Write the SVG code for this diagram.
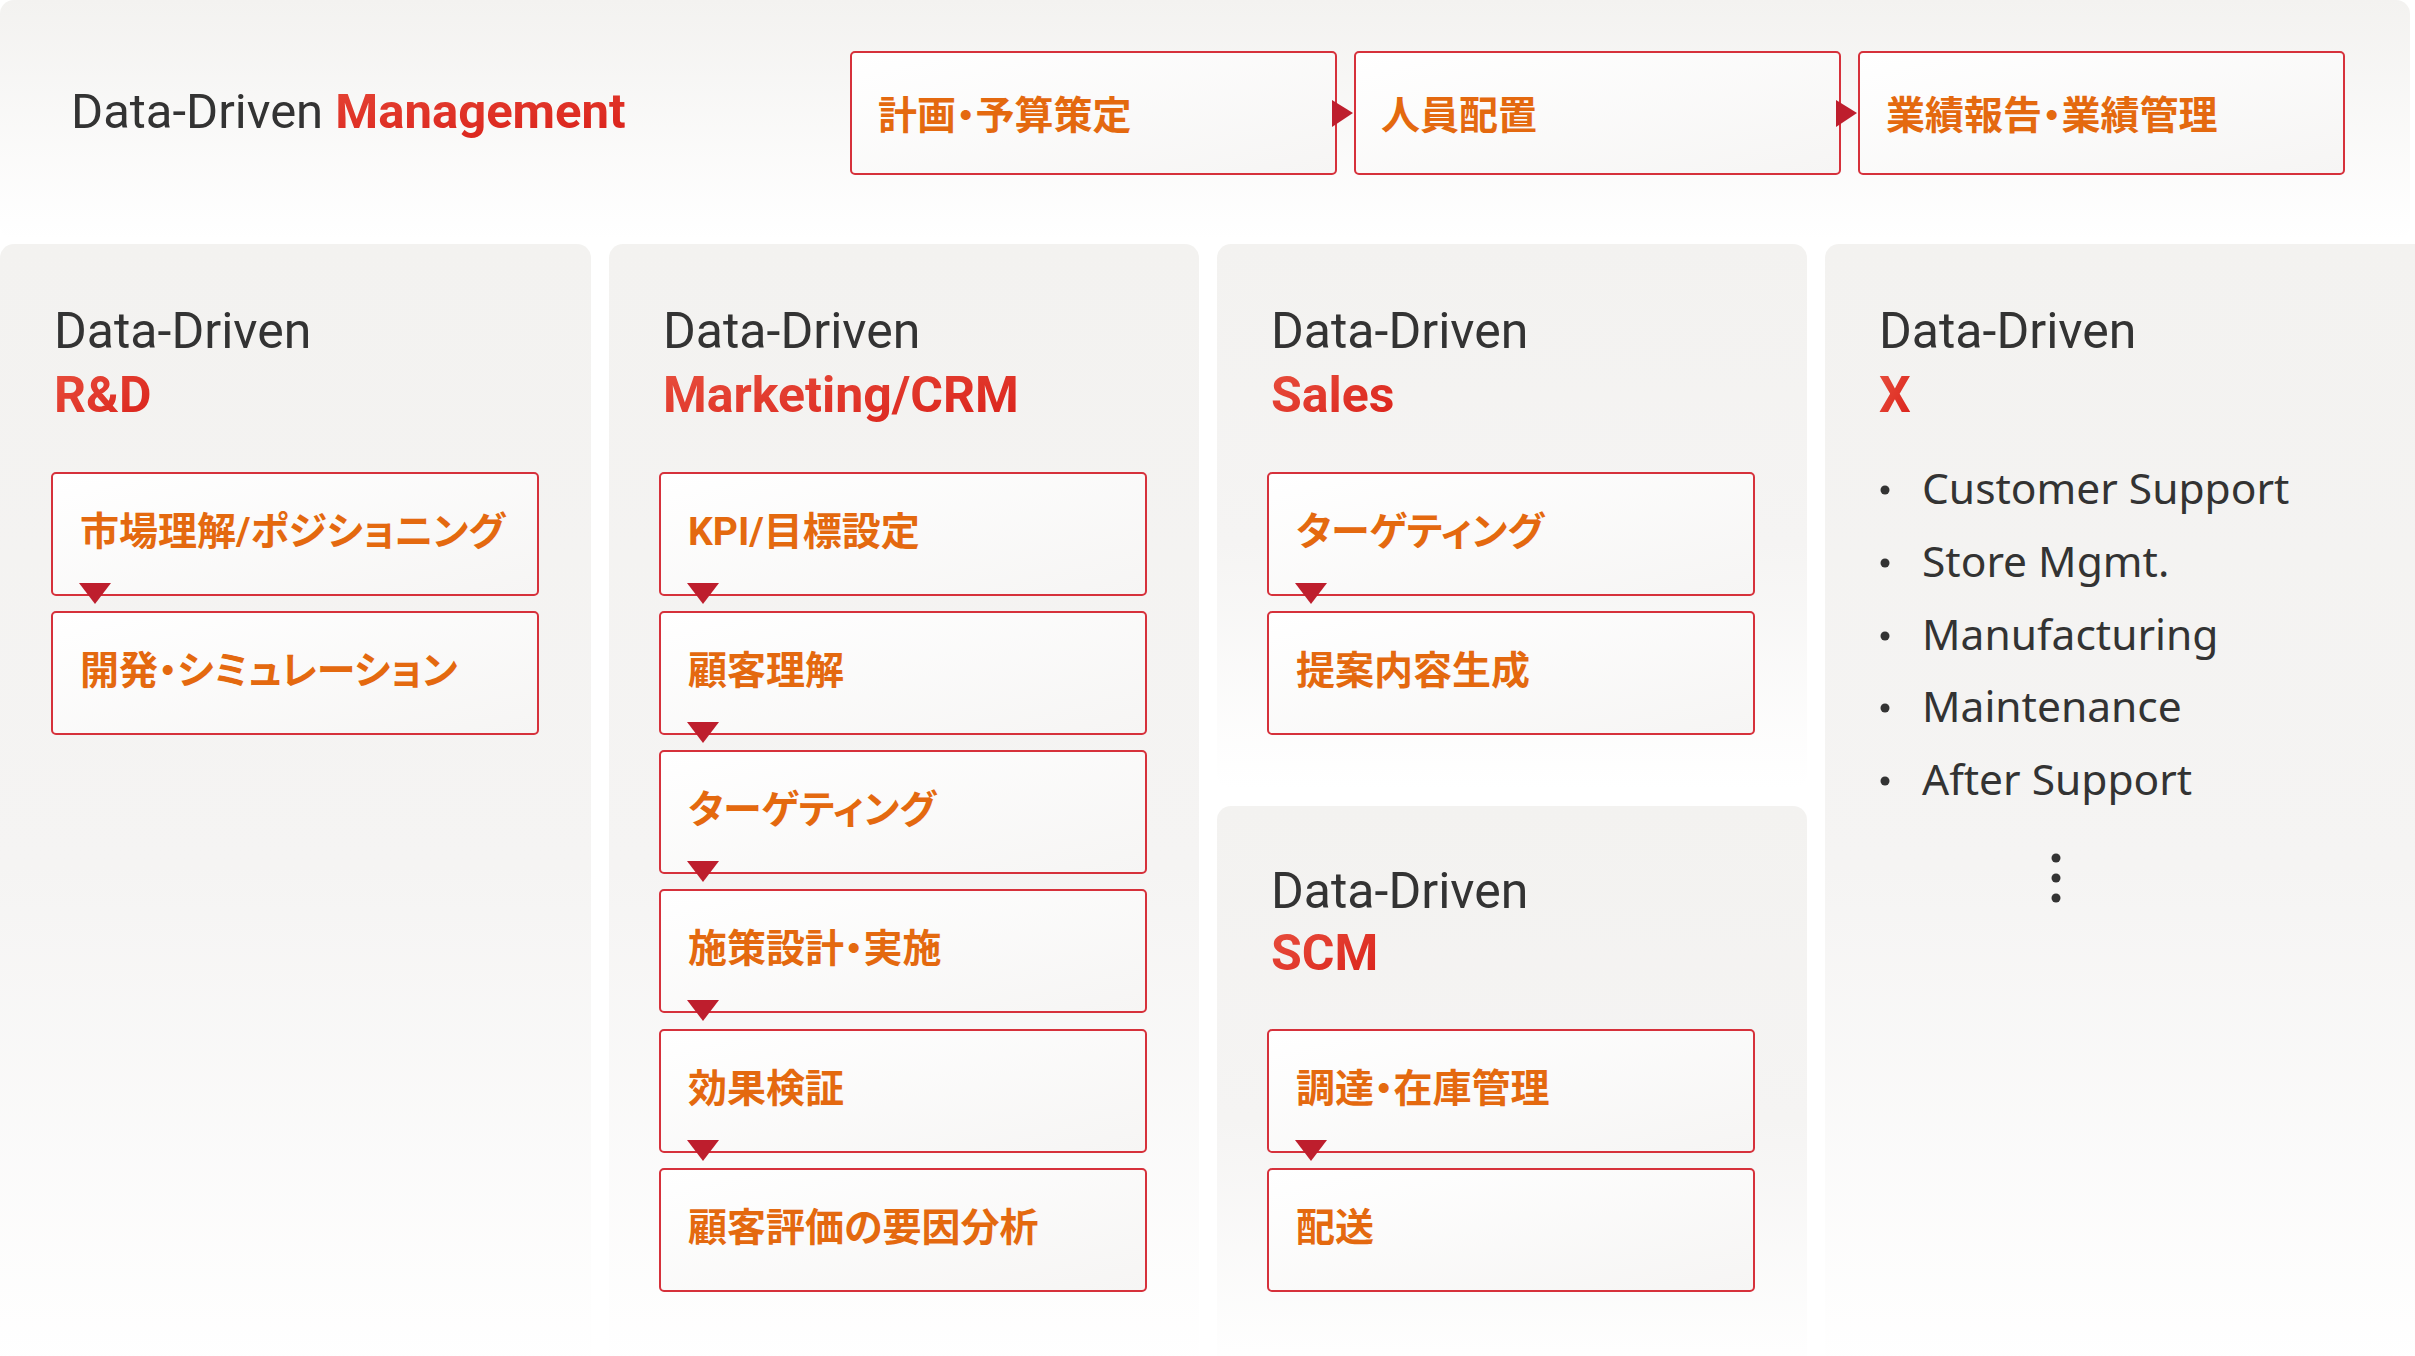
<svg xmlns="http://www.w3.org/2000/svg" width="2415" height="1356" viewBox="0 0 2415 1356">
<defs>
<linearGradient id="panelG" x1="0" y1="0" x2="0" y2="1">
<stop offset="0" stop-color="#f3f2f0"/>
<stop offset="0.55" stop-color="#f5f4f3"/>
<stop offset="1" stop-color="#ffffff"/>
</linearGradient>
<linearGradient id="headG" x1="0" y1="0" x2="0" y2="1">
<stop offset="0" stop-color="#f3f2f0"/>
<stop offset="1" stop-color="#ffffff"/>
</linearGradient>
<linearGradient id="boxG" x1="0" y1="0" x2="1" y2="1">
<stop offset="0" stop-color="#ffffff"/>
<stop offset="1" stop-color="#f6f5f4"/>
</linearGradient>
<linearGradient id="redG" x1="0" y1="0" x2="1" y2="1">
<stop offset="0" stop-color="#e8503e"/>
<stop offset="1" stop-color="#da2019"/>
</linearGradient>
</defs>
<style>
.panel{fill:url(#panelG)}
.box{fill:url(#boxG);stroke:#d6313b;stroke-width:2}
.lbl{font-family:"Roboto","Noto Sans CJK JP",sans-serif;font-weight:700;font-size:39px;fill:#e4690f;font-feature-settings:"palt"}
.dd{font-family:"Roboto",sans-serif;font-size:50px;fill:#333333}
.hl{font-family:"Roboto",sans-serif;font-weight:700;font-size:50px;fill:url(#redG)}
.bul{font-family:"Noto Sans",sans-serif;font-size:42.5px;fill:#333333}
.arr{fill:#be1e2d}
.dot{fill:#333333}
</style>
<rect width="2415" height="1356" fill="#ffffff"/>

<g id="header">
<rect x="0" y="0" width="2410" height="240" rx="14" fill="url(#headG)"/>
<text x="71" y="128" font-family="Roboto, sans-serif" font-size="49" fill="#333333">Data-Driven <tspan font-weight="700" fill="url(#redG)">Management</tspan></text>
</g>

<g id="mgmt-plan"><rect class="box" x="851" y="52" width="485" height="122" rx="4"/><text class="lbl" x="878" y="129">計画・予算策定</text></g>
<g id="mgmt-staff"><rect class="box" x="1355" y="52" width="485" height="122" rx="4"/><text class="lbl" x="1381" y="129">人員配置</text></g>
<g id="mgmt-report"><rect class="box" x="1859" y="52" width="485" height="122" rx="4"/><text class="lbl" x="1886" y="129">業績報告・業績管理</text></g>

<g id="panel-rd">
<rect class="panel" x="0" y="244" width="591" height="1130" rx="14"/>
<text class="dd" x="54" y="348">Data-Driven</text>
<text class="hl" x="54" y="412">R&amp;D</text>
</g>
<g id="panel-mkt">
<rect class="panel" x="609" y="244" width="590" height="1130" rx="14"/>
<text class="dd" x="663" y="348">Data-Driven</text>
<text class="hl" x="663" y="412">Marketing/CRM</text>
</g>
<g id="panel-sales">
<rect class="panel" x="1217" y="244" width="590" height="544" rx="14"/>
<text class="dd" x="1271" y="348">Data-Driven</text>
<text class="hl" x="1271" y="412">Sales</text>
</g>
<g id="panel-scm">
<rect class="panel" x="1217" y="806" width="590" height="570" rx="14"/>
<text class="dd" x="1271" y="908">Data-Driven</text>
<text class="hl" x="1271" y="970">SCM</text>
</g>
<g id="panel-x">
<rect class="panel" x="1825" y="244" width="610" height="1130" rx="14"/>
<text class="dd" x="1879" y="348">Data-Driven</text>
<text class="hl" x="1879" y="412">X</text>
<circle class="dot" cx="1885" cy="490" r="4.5"/><text class="bul" x="1922" y="504">Customer Support</text>
<circle class="dot" cx="1885" cy="563" r="4.5"/><text class="bul" x="1922" y="577">Store Mgmt.</text>
<circle class="dot" cx="1885" cy="636" r="4.5"/><text class="bul" x="1922" y="650">Manufacturing</text>
<circle class="dot" cx="1885" cy="708" r="4.5"/><text class="bul" x="1922" y="722">Maintenance</text>
<circle class="dot" cx="1885" cy="781" r="4.5"/><text class="bul" x="1922" y="795">After Support</text>
<circle class="dot" cx="2056" cy="858" r="4.5"/>
<circle class="dot" cx="2056" cy="878" r="4.5"/>
<circle class="dot" cx="2056" cy="898" r="4.5"/>
</g>

<g id="rd-1"><rect class="box" x="52" y="473" width="486" height="122" rx="4"/><text class="lbl" x="80" y="545">市場理解/ポジショニング</text></g>
<g id="rd-2"><rect class="box" x="52" y="612" width="486" height="122" rx="4"/><text class="lbl" x="80" y="684">開発・シミュレーション</text></g>

<g id="mkt-1"><rect class="box" x="660" y="473" width="486" height="122" rx="4"/><text class="lbl" x="688" y="545">KPI/目標設定</text></g>
<g id="mkt-2"><rect class="box" x="660" y="612" width="486" height="122" rx="4"/><text class="lbl" x="688" y="684">顧客理解</text></g>
<g id="mkt-3"><rect class="box" x="660" y="751" width="486" height="122" rx="4"/><text class="lbl" x="688" y="823">ターゲティング</text></g>
<g id="mkt-4"><rect class="box" x="660" y="890" width="486" height="122" rx="4"/><text class="lbl" x="688" y="962">施策設計・実施</text></g>
<g id="mkt-5"><rect class="box" x="660" y="1030" width="486" height="122" rx="4"/><text class="lbl" x="688" y="1102">効果検証</text></g>
<g id="mkt-6"><rect class="box" x="660" y="1169" width="486" height="122" rx="4"/><text class="lbl" x="688" y="1241">顧客評価の要因分析</text></g>

<g id="sales-1"><rect class="box" x="1268" y="473" width="486" height="122" rx="4"/><text class="lbl" x="1296" y="545">ターゲティング</text></g>
<g id="sales-2"><rect class="box" x="1268" y="612" width="486" height="122" rx="4"/><text class="lbl" x="1296" y="684">提案内容生成</text></g>

<g id="scm-1"><rect class="box" x="1268" y="1030" width="486" height="122" rx="4"/><text class="lbl" x="1296" y="1102">調達・在庫管理</text></g>
<g id="scm-2"><rect class="box" x="1268" y="1169" width="486" height="122" rx="4"/><text class="lbl" x="1296" y="1241">配送</text></g>

<g id="connectors">
<polygon class="arr" points="1332,100 1353,113 1332,127"/>
<polygon class="arr" points="1836,100 1857,113 1836,127"/>
<polygon class="arr" points="79,583 111,583 95,604"/>
<polygon class="arr" points="687,583 719,583 703,604"/>
<polygon class="arr" points="687,722 719,722 703,743"/>
<polygon class="arr" points="687,861 719,861 703,882"/>
<polygon class="arr" points="687,1000 719,1000 703,1021"/>
<polygon class="arr" points="687,1140 719,1140 703,1161"/>
<polygon class="arr" points="1295,583 1327,583 1311,604"/>
<polygon class="arr" points="1295,1140 1327,1140 1311,1161"/>
</g>
</svg>
